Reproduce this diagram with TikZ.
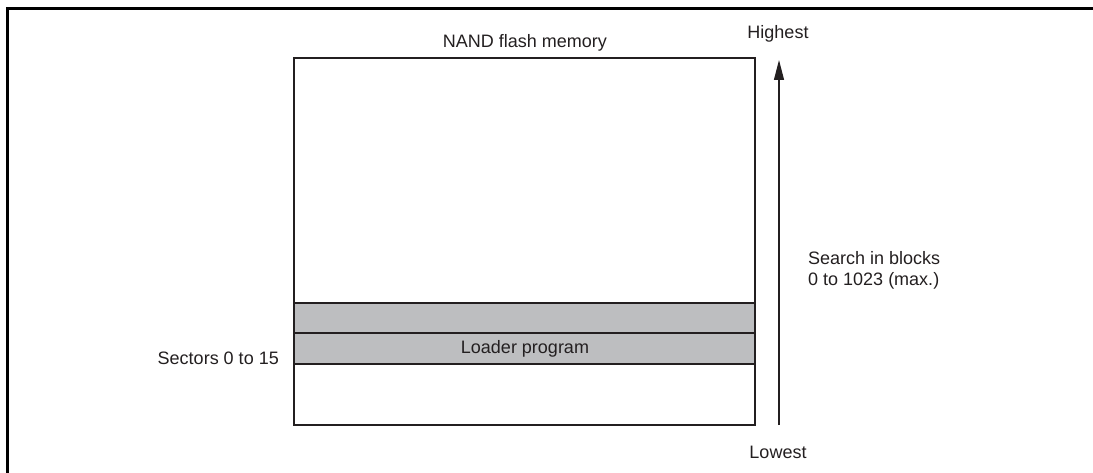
\documentclass[tikz,border=0pt]{standalone}
\usepackage{fontspec}
\setmainfont{Liberation Sans}
\usetikzlibrary{arrows.meta}
\definecolor{bandgray}{HTML}{BDBEC0}
\definecolor{ink}{HTML}{231F20}
\begin{document}
\begin{tikzpicture}[x=1pt,y=-1pt,
  lbl/.style={font=\fontsize{18}{21}\selectfont, text=ink, inner sep=0pt},
  boxline/.style={draw=ink, line width=2.4pt},
  band/.style={draw=ink, fill=bandgray, line width=2.4pt}]
\useasboundingbox (0,0) rectangle (1093,473);
\draw[line width=3pt] (7,480) -- (7,9) -- (1100,9);
\draw[boxline] (294,58) rectangle (755,425);
\draw[band] (294,303) rectangle (755,333);
\draw[band] (294,333) rectangle (755,364);
\node[lbl] (title) at (525,43) {NAND flash memory};
\node[lbl] (loader) at (525,349) {Loader program};
\node[lbl, anchor=east] (sectors) at (279,358) {Sectors 0 to 15};
\node[lbl] (high) at (778,34) {Highest};
\node[lbl] (low) at (778,452) {Lowest};
\coordinate (abot) at (779,425);
\coordinate (atop) at (779,60);
\draw[ink, line width=1.2pt, -{Triangle[length=20pt,width=10pt]}] (abot) -- (atop);
\node[lbl, anchor=west, align=left] (search) at (808,270) {Search in blocks\\0 to 1023 (max.)};
\end{tikzpicture}
\end{document}
